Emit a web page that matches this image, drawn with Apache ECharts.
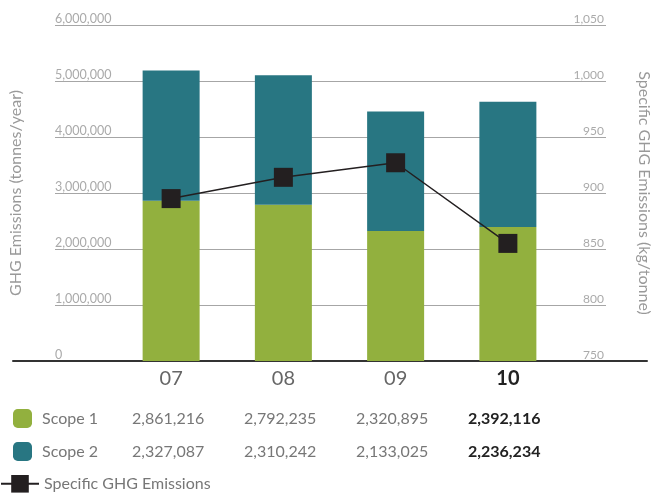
<!DOCTYPE html>
<html>
<head>
<meta charset="utf-8">
<script src="https://cdn.jsdelivr.net/npm/echarts@6/dist/echarts.min.js"></script>
<style>
  html, body { margin: 0; padding: 0; background: #fff; }
  #chart { width: 660px; height: 494px; }
</style>
</head>
<body>
<div id="chart"></div>
<script>
// 数据
const years = ['07', '08', '09', '10']
const scope1 = [2861216, 2792235, 2320895, 2392116]
const scope2 = [2327087, 2310242, 2133025, 2236234]
const specific = [895, 914, 927, 855]
const leftTicks = [0, 6000000, 1000000]   // min, max, interval
const rightTicks = [750, 1050, 50]

const fmt = v => v.toLocaleString('en-US')
const font = 'Lato, "Open Sans", sans-serif'

// 图例的表格文字
const rowText = vals => {
  return function (name) {
    let s = '{n|' + name + '}'
    vals.forEach((v, i) => {
      s += (i === vals.length - 1 ? '{b|' : '{v|') + fmt(v) + '}'
    })
    return s
  }
}
const rich = {
  n: { width: 90, padding: [0, 0, 0, 5], fontSize: 16, color: '#777', fontFamily: font },
  v: { width: 112, fontSize: 16, color: '#777', fontFamily: font },
  b: { width: 112, fontSize: 16, color: '#222', fontWeight: 'bold', fontFamily: font }
}

const myChart = echarts.init(document.getElementById('chart'))
myChart.setOption({
  animation: false,
  textStyle: { fontFamily: font },
  grid: [
    { left: 115, right: 96, top: 25, bottom: 133 },
    { left: 51, right: 50, top: 25, bottom: 133 },
    { left: 13, right: 13, top: 25, bottom: 133 }
  ],
  xAxis: [
    {
      type: 'category', gridIndex: 0, data: years,
      axisLine: { show: false }, axisTick: { show: false },
      axisLabel: {
        margin: 8, fontSize: 20, color: '#666',
        formatter: (v, i) => i === years.length - 1 ? '{b|' + v + '}' : v,
        rich: { b: { fontSize: 20, fontWeight: 'bold', color: '#222' } }
      }
    },
    { type: 'value', gridIndex: 1, show: false },
    {
      type: 'value', gridIndex: 2,
      axisLine: { show: true, lineStyle: { color: '#333', width: 2 } },
      axisTick: { show: false }, axisLabel: { show: false }, splitLine: { show: false }
    }
  ],
  yAxis: [
    { type: 'value', gridIndex: 0, min: leftTicks[0], max: leftTicks[1], interval: leftTicks[2], show: false },
    { type: 'value', gridIndex: 0, min: rightTicks[0], max: rightTicks[1], interval: rightTicks[2], show: false },
    {
      type: 'value', gridIndex: 1, position: 'left',
      min: leftTicks[0], max: leftTicks[1], interval: leftTicks[2],
      name: 'GHG Emissions (tonnes/year)', nameLocation: 'middle', nameGap: 31, nameRotate: 90,
      nameTextStyle: { fontSize: 16, color: '#999' },
      axisLine: { show: false }, axisTick: { show: false },
      axisLabel: {
        inside: true, margin: 0, verticalAlign: 'bottom', fontSize: 12.5, color: '#aaa',
        formatter: v => fmt(v)
      },
      splitLine: { lineStyle: { color: '#a6a6a6', width: 1.2 } }
    },
    {
      type: 'value', gridIndex: 1, position: 'right',
      min: rightTicks[0], max: rightTicks[1], interval: rightTicks[2],
      name: 'Specific GHG Emissions (kg/tonne)', nameLocation: 'middle', nameGap: 30, nameRotate: -90,
      nameTextStyle: { fontSize: 16, color: '#999' },
      axisLine: { show: false }, axisTick: { show: false },
      axisLabel: {
        inside: true, margin: 2, verticalAlign: 'bottom', fontSize: 12, color: '#aaa',
        formatter: v => fmt(v)
      },
      splitLine: { show: false }
    },
    { type: 'value', gridIndex: 2, show: false }
  ],
  legend: [
    {
      data: ['Scope 1', 'Scope 2'], orient: 'vertical', left: 13, top: 409, padding: 0,
      itemWidth: 19, itemHeight: 19, itemGap: 14, selectedMode: false,
      formatter: name => name === 'Scope 1' ? rowText(scope1)(name) : rowText(scope2)(name),
      textStyle: { rich: rich }
    },
    {
      data: ['Specific GHG Emissions'], left: 0, top: 475, padding: 0,
      itemWidth: 38, itemHeight: 22, selectedMode: false,
      textStyle: { fontSize: 16, color: '#777' }
    }
  ],
  series: [
    {
      name: 'Scope 1', type: 'bar', stack: 'ghg', xAxisIndex: 0, yAxisIndex: 0,
      barWidth: 57, data: scope1, itemStyle: { color: '#92b03e' }
    },
    {
      name: 'Scope 2', type: 'bar', stack: 'ghg', xAxisIndex: 0, yAxisIndex: 0,
      barWidth: 57, data: scope2, itemStyle: { color: '#287682' }
    },
    {
      name: 'Specific GHG Emissions', type: 'line', xAxisIndex: 0, yAxisIndex: 1,
      data: specific, symbol: 'rect', symbolSize: 19, z: 5,
      lineStyle: { color: '#231f20', width: 1.5 },
      itemStyle: { color: '#231f20' }
    }
  ]
})
</script>
</body>
</html>
